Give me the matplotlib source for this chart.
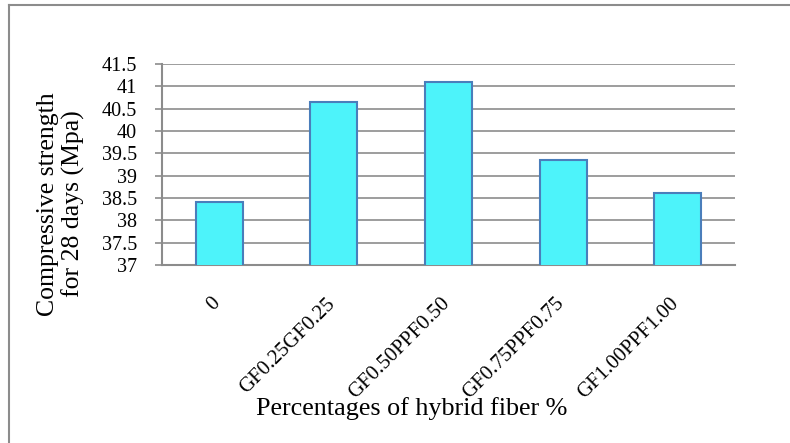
import matplotlib
matplotlib.use('Agg')
import matplotlib.pyplot as plt
import matplotlib.transforms as mtransforms
from matplotlib.lines import Line2D

plt.rcParams['font.family'] = ['Liberation Serif', 'DejaVu Serif']

categories = ['0', 'GF0.25GF0.25', 'GF0.50PPF0.50', 'GF0.75PPF0.75', 'GF1.00PPF1.00']
strength = [38.42, 40.65, 41.09, 39.34, 38.61]
y_ticks = [37, 37.5, 38, 38.5, 39, 39.5, 40, 40.5, 41, 41.5]
y_tick_labels = ['37', '37.5', '38', '38.5', '39', '39.5', '40', '40.5', '41', '41.5']

W, H = 790, 443
fig = plt.figure(figsize=(W / 100, H / 100), dpi=100, facecolor='white')
ax = fig.add_axes([162 / W, 1 - 265 / H, 573 / W, 201 / H])

x = range(len(categories))
ax.bar(x, strength, width=0.41, bottom=0, color='#4DF3FA', edgecolor='#4A7EBB',
       linewidth=1.5, zorder=3)

ax.set_ylim(37, 41.5)
ax.set_xlim(-0.5, len(categories) - 0.5)
ax.set_yticks(y_ticks)
ax.set_yticklabels(y_tick_labels, fontsize=14.5)
ax.yaxis.grid(True, color='#8C8C8C', linewidth=1.2, zorder=0)
ax.set_axisbelow(True)

ax.set_xticks(list(x))
ax.set_xticklabels(categories, rotation=45, ha='right', rotation_mode='anchor',
                   fontsize=15)
ax.tick_params(axis='x', length=0, pad=21)
ax.tick_params(axis='y', length=5, color='#8C8C8C', width=1.2, pad=13)

# nudge rotated tick labels a bit to the left
shift = mtransforms.ScaledTranslation(-6 / 72, 0, fig.dpi_scale_trans)
for lbl in ax.get_xticklabels():
    lbl.set_transform(lbl.get_transform() + shift)

for s in ['top', 'right']:
    ax.spines[s].set_visible(False)
for s in ['left', 'bottom']:
    ax.spines[s].set_color('#8C8C8C')
    ax.spines[s].set_linewidth(1.5)

fig.text(412 / W, 1 - 409 / H, 'Percentages of hybrid fiber %', ha='center',
         va='center', fontsize=18.8)
fig.text(61 / W, 1 - 204 / H, 'Compressive strength\nfor 28 days (Mpa)',
         ha='center', va='center', rotation=90, fontsize=18.5, linespacing=1.15)

# chart border (left and top only visible)
fig.add_artist(Line2D([9 / W, 9 / W], [0, 1 - 5 / H], transform=fig.transFigure,
                      color='#8C8C8C', linewidth=1.5))
fig.add_artist(Line2D([9 / W, 1], [1 - 5 / H, 1 - 5 / H], transform=fig.transFigure,
                      color='#8C8C8C', linewidth=1.5))

fig.savefig('out.png', dpi=100, facecolor='white')
plt.close(fig)
